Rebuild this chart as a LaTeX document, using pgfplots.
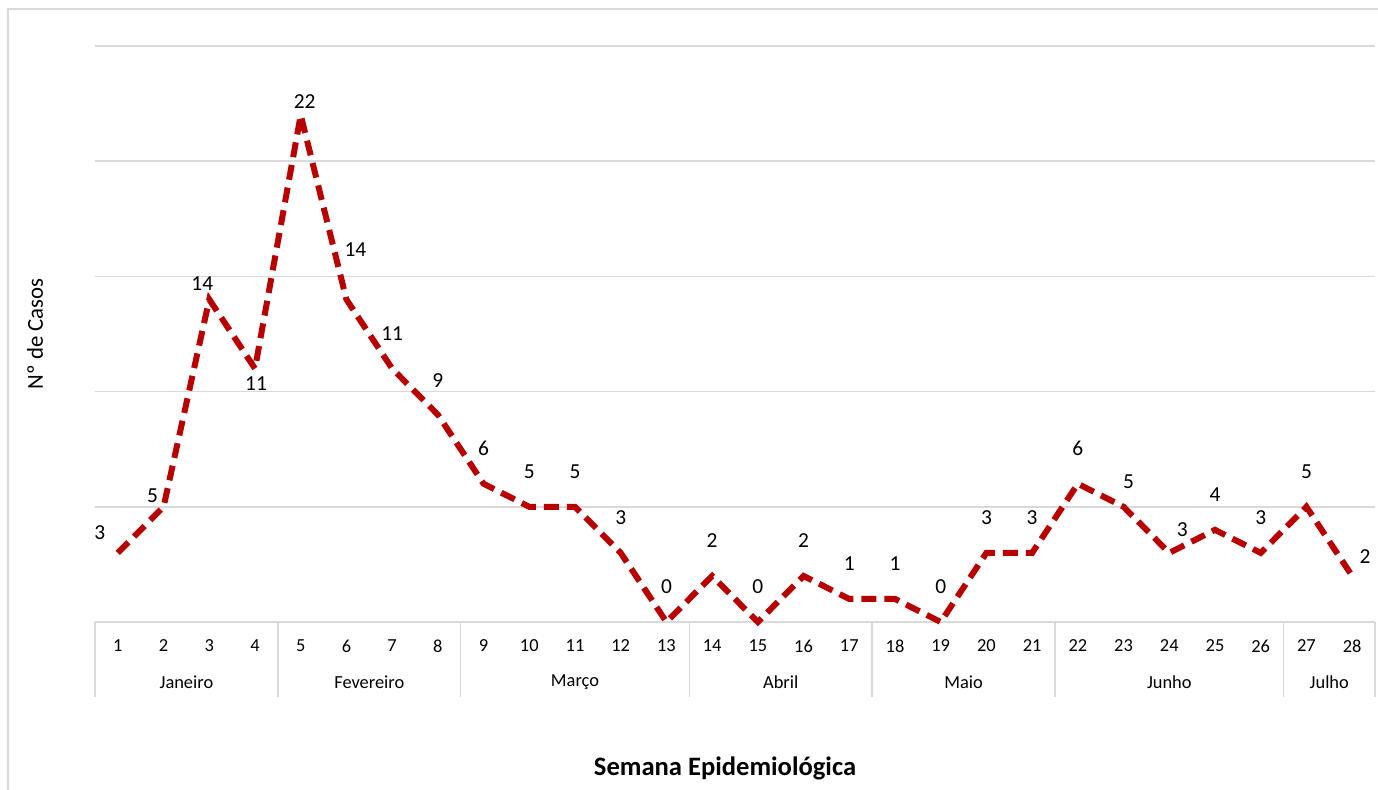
\documentclass[border=0pt]{standalone}
\usepackage{fontspec}
\setmainfont{Carlito}
\usepackage{pgfplots}
\usepackage{pgfplotstable}
\pgfplotsset{compat=1.18}
\definecolor{casored}{HTML}{B80000}
\definecolor{gridgray}{HTML}{D9D9D9}

% semana, casos, deslocamento do rotulo (pt)
\pgfplotstableread{
x  y  dx   dy
1  3  -9   10
2  5  -5.5 5.5
3  14 -3.5 8
4  11 0.5  -7.5
5  22 2    7
6  14 4.5  25
7  11 0    17.5
8  9   0   17
9  6   0   17.5
10 5   0   17.5
11 5   0   17.5
12 3   0   17.5
13 0   0   17.5
14 2   0   17.5
15 0   0   17.5
16 2   0   17.5
17 1   0   17.5
18 1   0   17.5
19 0   0   17.5
20 3   0   17.5
21 3   0   17.5
22 6   0   17.5
23 5   2.5 12.5
24 3   6.5 11.5
25 4   0   17.5
26 3   0   17.5
27 5   0   17.5
28 2   6.5 9.5
}\casos

\begin{document}
\begin{tikzpicture}
\useasboundingbox (-47.5pt,-83.5pt) rectangle (641.5pt,311pt);
\draw[gridgray, line width=0.75pt] (-43.5pt,-84pt) -- (-43.5pt,306.5pt) -- (642pt,306.5pt);
\begin{axis}[
  at={(0,0)}, anchor=south west,
  scale only axis, width=640pt, height=288pt,
  xmin=0.5, xmax=28.5, ymin=0, ymax=25,
  clip=false,
  axis line style={draw=none},
  ytick={0,5,...,25}, yticklabels={},
  ymajorgrids, grid style={gridgray, line width=0.75pt},
  major tick length=0pt,
  xtick={1,...,28},
  xticklabel style={font=\fontsize{9.2}{11}\selectfont, anchor=center, yshift=-12pt},
  /pgf/number format/assume math mode=true,
  xlabel={Semana Epidemiológica},
  every axis x label/.style={at={(rel axis cs:0.5,0)}, yshift=-73pt, xshift=-5pt,
    anchor=center, font=\bfseries\fontsize{13.3}{16}\selectfont},
  ylabel={Nº de Casos},
  every axis y label/.style={at={(rel axis cs:0,0.5)}, xshift=-30pt, rotate=90,
    anchor=center, font=\fontsize{11.4}{14}\selectfont},
]
\addplot[casored, line width=3pt, line cap=butt, line join=miter,
  dash pattern=on 7.5pt off 4pt,
  nodes near coords,
  visualization depends on={\thisrow{dx}\as\dx},
  visualization depends on={\thisrow{dy}\as\dy},
  every node near coord/.style={anchor=center, text=black, xshift=\dx*1pt, yshift=\dy*1pt,
    font=\fontsize{10.7}{13}\selectfont, solid},
  point meta=y,
] table[x=x, y=y] {\casos};

\pgfplotsinvokeforeach{0.5,4.5,8.5,13.5,17.5,21.5,26.5,28.5}{
  \draw[gridgray, line width=0.75pt] (axis cs:#1,0) -- ++(0pt,-37.5pt);
}
\begin{scope}[font=\fontsize{9.2}{11}\selectfont]
\node at (axis cs:2.5,0)  [yshift=-30pt] {Janeiro};
\node at (axis cs:6.5,0)  [yshift=-30pt] {Fevereiro};
\node at (axis cs:11,0)   [yshift=-30pt] {Março};
\node at (axis cs:15.5,0) [yshift=-30pt] {Abril};
\node at (axis cs:19.5,0) [yshift=-30pt] {Maio};
\node at (axis cs:24,0)   [yshift=-30pt] {Junho};
\node at (axis cs:27.5,0) [yshift=-30pt] {Julho};
\end{scope}
\end{axis}
\end{tikzpicture}
\end{document}
